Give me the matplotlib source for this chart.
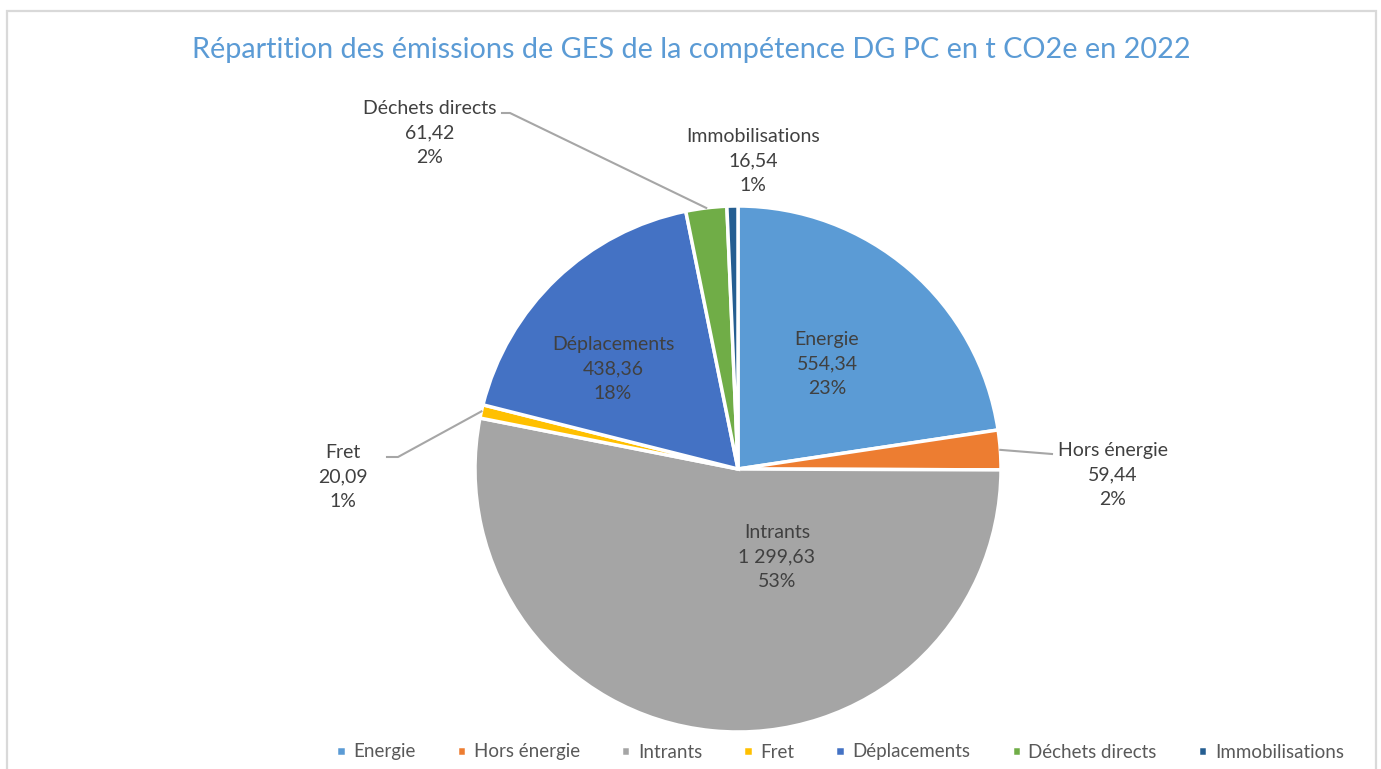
import numpy as np
import matplotlib.pyplot as plt
from matplotlib.patches import Rectangle

plt.rcParams['font.family'] = ['Lato', 'DejaVu Sans']

# data
categories = ['Energie', 'Hors énergie', 'Intrants', 'Fret', 'Déplacements',
              'Déchets directs', 'Immobilisations']
values = [554.34, 59.44, 1299.63, 20.09, 438.36, 61.42, 16.54]
pct_labels = ['23%', '2%', '53%', '1%', '18%', '2%', '1%']
colors = ['#5B9BD5', '#ED7D31', '#A5A5A5', '#FFC000', '#4472C4', '#70AD47', '#255E91']
title = 'Répartition des émissions de GES de la compétence DG PC en t CO2e en 2022'

W, H = 1381, 769
fig = plt.figure(figsize=(W / 100, H / 100), dpi=100)
ax = fig.add_axes([0, 0, 1, 1])

def py(y):
    return H - y

# frame of the chart area
ax.add_patch(Rectangle((7, py(800)), 1369, 789, fill=False, ec='#D9D9D9', lw=1.6))

cx, cy, r = 738, py(469), 263
wedges, _ = ax.pie(values, colors=colors, startangle=90, counterclock=False,
                   center=(cx, cy), radius=r, frame=True,
                   wedgeprops=dict(edgecolor='white', linewidth=2.5))
ax.set_xlim(0, W)
ax.set_ylim(0, H)
ax.set_aspect('equal')
ax.axis('off')

def fmt(v):
    s = f'{v:,.2f}'
    return s.replace(',', ' ').replace('.', ',')

# label positions (pixel, text centre) and optional leader start
label_pos = {
    'Energie': (827, 364, None),
    'Hors énergie': (1113, 475, [(1052, 454)]),
    'Intrants': (777, 557, None),
    'Fret': (343, 477, [(387, 457), (398, 457)]),
    'Déplacements': (613, 369, None),
    'Déchets directs': (430, 133, [(502, 113), (510, 113)]),
    'Immobilisations': (753, 161, None),
}

for w, cat, val, pct in zip(wedges, categories, values, pct_labels):
    x, y, lead = label_pos[cat]
    ax.text(x, py(y), f'{cat}\n{fmt(val)}\n{pct}', ha='center', va='center',
            fontsize=14, color='#404040', linespacing=1.55)
    if lead is not None:
        mid = np.deg2rad((w.theta1 + w.theta2) / 2)
        ex, ey = cx + r * np.cos(mid), cy + r * np.sin(mid)
        xs = [p[0] for p in lead] + [ex]
        ys = [py(p[1]) for p in lead] + [ey]
        ax.plot(xs, ys, color='#A6A6A6', lw=1.5)

ax.text(691, py(50), title, ha='center', va='center', fontsize=20.8, color='#5B9BD5')

leg = fig.legend(wedges, categories, loc='center', bbox_to_anchor=(840 / W, 1 - 752 / H),
                 ncol=7, frameon=False, fontsize=13.5, handlelength=0.5, handleheight=0.5,
                 handletextpad=0.4, columnspacing=2.2, labelcolor='#595959')

fig.savefig('out.png', dpi=100)
